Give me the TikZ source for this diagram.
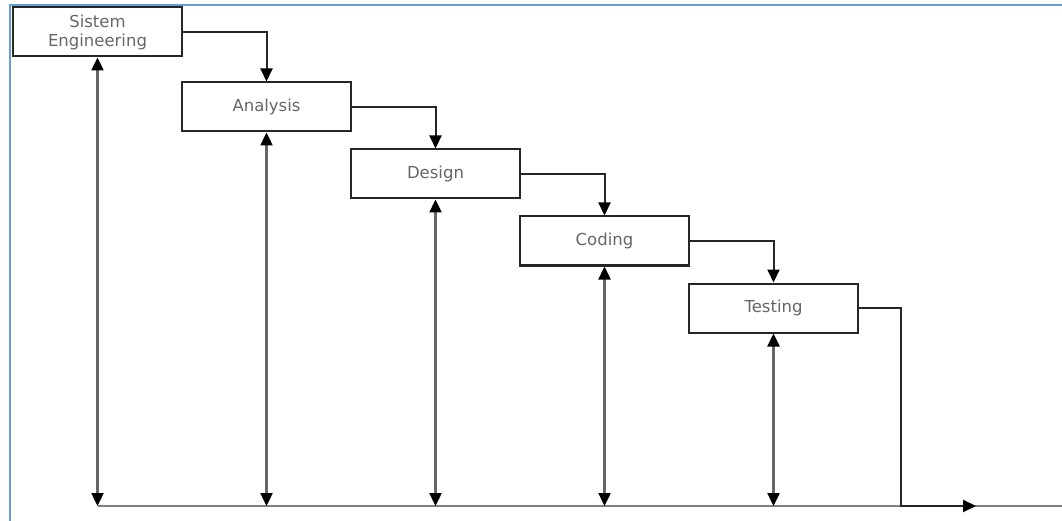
\documentclass[tikz,border=0pt]{standalone}
\usepackage{fontspec}
\setsansfont{DejaVu Sans}
\usepackage{xcolor}
\usetikzlibrary{arrows.meta}
\definecolor{framecol}{RGB}{100,158,214}

\begin{document}
\begin{tikzpicture}[x=1pt,y=-1pt,
		box/.style={draw=black!85, line width=2pt, minimum width=169pt, minimum height=49pt,
			inner sep=0pt, align=center, text=black!60, font=\sffamily\fontsize{16.5}{19}\selectfont},
		flow/.style={draw=black!85, line width=2pt, -{Triangle[length=13pt,width=12pt,color=black]}},
		both/.style={draw=black!60, line width=2.4pt,
			{Triangle[length=13pt,width=12pt,color=black]}-{Triangle[length=13pt,width=12pt,color=black]}}]
		% Fix the page size
		\useasboundingbox (0,0) rectangle (1062,521);
		
		% Blue frame of the figure
		\draw[framecol, line width=2pt] (9.5,521) -- (9.5,5.5) -- (1062,5.5);
		
		% Phases
		\node[box] (se) at (97.5,32) {Sistem\\Engineering};
		\node[box] (an) at (266.5,107) {Analysis};
		\node[box] (de) at (435.5,174) {Design};
		\node[box] (co) at (604.5,241) {Coding};
		\node[box] (te) at (773.5,308) {Testing};
		
		% Time axis
		\coordinate (ax0) at (97.5,506);
		\coordinate (axend) at (1062,506);
		\coordinate (out) at (976,506);
		\draw[black!50, line width=2.5pt] (ax0) -- (axend);
		
		% Flow from one phase to the next
		\draw[flow] (se.east) -| (an.north);
		\draw[flow] (an.east) -| (de.north);
		\draw[flow] (de.east) -| (co.north);
		\draw[flow] (co.east) -| (te.north);
		\draw[flow] (te.east) -- ++(42,0) |- (out);
		
		% Feedback between phase and axis
		\foreach \n in {se,an,de,co,te} {
			\draw[both] (\n.south) -- (\n.south |- ax0);
		}
	\end{tikzpicture}
\end{document}
